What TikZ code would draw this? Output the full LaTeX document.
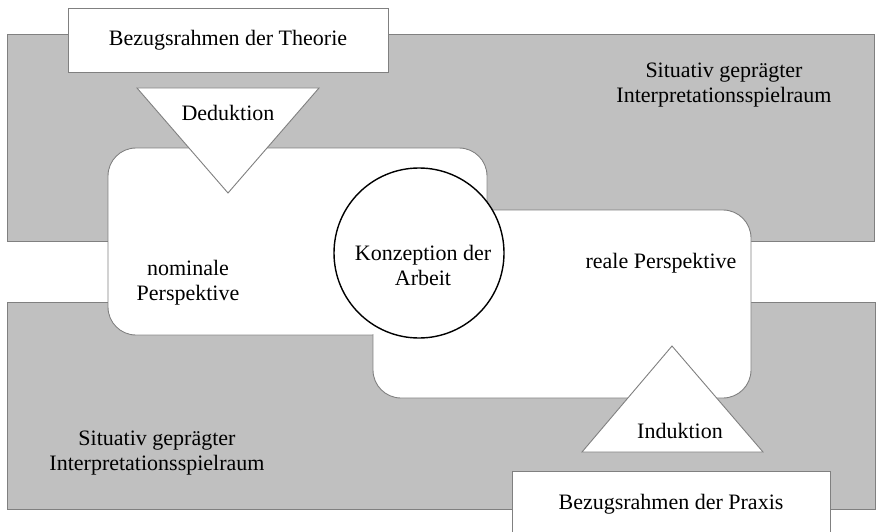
\documentclass[tikz,border=0pt]{standalone}
\usepackage{fontspec}
\setmainfont{Liberation Serif}
\definecolor{bandgray}{RGB}{192,192,192}
\definecolor{edgegray}{RGB}{128,128,128}
\begin{document}
\begin{tikzpicture}[x=1pt,y=-1pt,
  every node/.style={font=\fontsize{22}{25}\selectfont, inner sep=0pt},
  band/.style={fill=bandgray, draw=edgegray, line width=0.9pt},
  persp/.style={fill=white, draw=edgegray, line width=0.9pt, rounded corners=28pt},
  box/.style={fill=white, draw=edgegray, line width=0.9pt},
  tri/.style={fill=white, draw=edgegray, line width=0.9pt},
  txt/.style={align=center}
]
\useasboundingbox (0,0) rectangle (877,532);
\clip (0,0) rectangle (877,532);
% bands
\draw[band] (7,34) rectangle (874,241);
\draw[band] (7,302) rectangle (875,509);
% perspective areas
\draw[persp] (108,148) rectangle (487,335);
\draw[persp] (373,210) rectangle (751,398);
\fill[white, rounded corners=27pt] (109,149) rectangle (486,334);
% boxes
\node[box, minimum width=320pt, minimum height=64pt] (theorie) at (228,40) {Bezugsrahmen der Theorie};
\node[box, minimum width=318pt, minimum height=66pt] (praxis) at (671,504) {Bezugsrahmen der Praxis};
% triangles
\coordinate (dl) at (137,88);
\coordinate (dr) at (319,88);
\coordinate (da) at (228,193);
\draw[tri] (dl) -- (dr) -- (da) -- cycle;
\node (ded) at (228,113) {Deduktion};
\coordinate (il) at (582,452);
\coordinate (ir) at (763,452);
\coordinate (ia) at (672,346);
\draw[tri] (il) -- (ir) -- (ia) -- cycle;
\node (ind) at (680,431) {Induktion};
% circle
\node[circle, draw=black, line width=1.4pt, fill=white, minimum size=170pt] (konz) at (419,253) {};
\node[txt] (konztxt) at (423,265) {Konzeption der\\Arbeit};
% texts
\node[txt] (sit1) at (724,85) {Situativ geprägter\\Interpretationsspielraum};
\node[txt] (sit2) at (157,453) {Situativ geprägter\\Interpretationsspielraum};
\node[txt] (nom) at (188,283) {nominale\\Perspektive};
\node (real) at (661,263) {reale Perspektive};
\end{tikzpicture}
\end{document}
